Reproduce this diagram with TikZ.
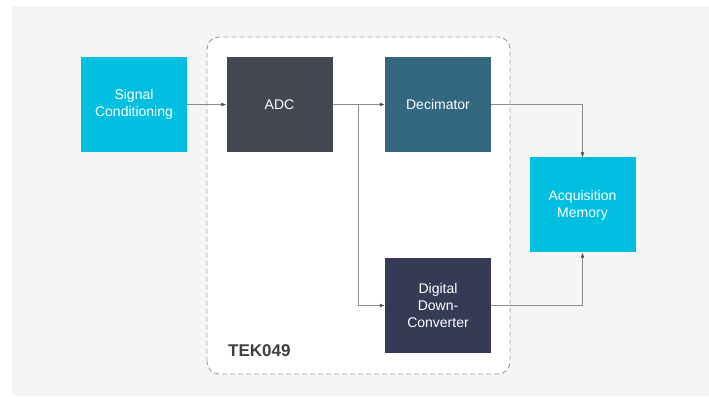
\documentclass[tikz,border=0pt]{standalone}
\usepackage{fontspec}
\setmainfont{Liberation Sans}
\usetikzlibrary{arrows.meta}
\definecolor{tekcyan}{HTML}{00BFE0}
\definecolor{tekadc}{HTML}{434751}
\definecolor{tekdec}{HTML}{33667F}
\definecolor{tekddc}{HTML}{353B55}
\definecolor{tekline}{HTML}{8A8C90}
\definecolor{tektip}{HTML}{4A4D55}
\definecolor{tekbg}{HTML}{F5F5F5}
\begin{document}
\begin{tikzpicture}[x=1pt,y=1pt,
  block/.style={minimum width=106pt, minimum height=95pt, inner sep=2pt,
    text=white, align=center, font=\fontsize{14}{17}\selectfont},
  link/.style={draw=tekline, line width=0.8pt,
    -{Latex[length=5pt,width=4pt,color=tektip]}}]
  % frame
  \useasboundingbox (0,0) rectangle (709,396);
  \fill[tekbg] (12,0) rectangle (709,390);

  % TEK049 group
  \draw[fill=white, draw=black!38, dash pattern=on 5pt off 3pt, line width=0.9pt,
    rounded corners=12pt] (207,22) rectangle (510,359);
  \node[anchor=base west, inner sep=0pt, text=black!75, font=\bfseries\fontsize{17}{20}\selectfont]
    (tek) at (228,39) {TEK049};

  % blocks
  \node[block, fill=tekcyan] (sigcond) at (134,291.5) {Signal\\Conditioning};
  \node[block, fill=tekadc]  (adc)     at (279.5,291.5) {ADC};
  \node[block, fill=tekdec]  (decim)   at (438,291.5) {Decimator};
  \node[block, fill=tekddc]  (ddc)     at (438,90.5) {Digital\\Down-\\Converter};
  \node[block, fill=tekcyan] (acqmem)  at (582.5,191) {Acquisition\\Memory};

  % branch point
  \coordinate (split) at (358,291.5);

  % connectors
  \draw[link] (sigcond) -- (adc);
  \draw[link] (adc) -- (decim);
  \draw[link] (split) |- (ddc);
  \draw[link] (decim) -| (acqmem);
  \draw[link] (ddc) -| (acqmem);
\end{tikzpicture}
\end{document}
